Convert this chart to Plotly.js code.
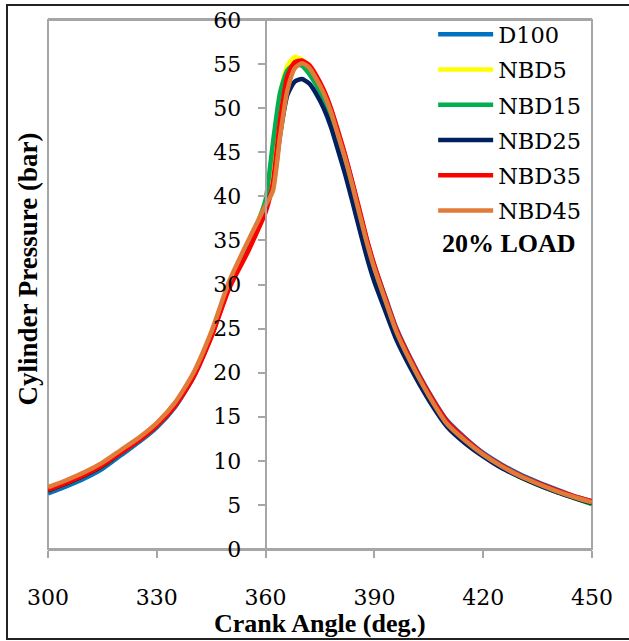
<!DOCTYPE html>
<html>
<head>
<meta charset="utf-8">
<script src="https://cdn.plot.ly/plotly-3.0.1.min.js"></script>
<style>
html,body{margin:0;padding:0;background:#fff;overflow:hidden;}
#wrap{position:relative;width:629px;height:641px;}
#chart{position:absolute;left:0;top:0;width:629px;height:641px;}
#frame{position:absolute;left:6px;top:4px;width:640px;height:636px;border:2px solid #222;box-sizing:border-box;pointer-events:none;}
</style>
</head>
<body>
<div id="wrap"><div id="chart"></div><div id="frame"></div></div>
<script>
const crankAngle = [300,305,310,315,320,325,330,335,340,345,350,355,358,360,362,364,366,368,370,372,374,376,378,380,382,384,386,388,390,393,396,400,405,410,415,420,425,430,435,440,445,450];

const D100  = [6.3,7.1,8.0,9.1,10.6,12.1,13.8,16.1,19.4,24.1,29.8,34.3,37.0,38.9,41.2,47.5,52.5,54.8,55.2,54.8,53.5,52.0,49.9,47.2,44.5,41.4,38.1,34.9,32.1,28.6,25.1,21.6,17.8,14.6,12.6,10.9,9.6,8.5,7.6,6.8,6.0,5.4];
const NBD5  = [6.6,7.4,8.3,9.4,10.9,12.3,14.0,16.3,19.6,24.3,30.0,34.4,37.2,39.5,45.3,51.5,54.8,55.8,55.5,54.6,53.2,51.5,49.3,46.6,43.8,40.7,37.5,34.3,31.5,28.0,24.5,21.1,17.3,14.2,12.2,10.6,9.3,8.2,7.3,6.5,5.8,5.1];
const NBD15 = [6.6,7.4,8.3,9.4,10.9,12.3,14.0,16.3,19.6,24.3,30.0,34.4,37.2,39.6,46.0,51.8,54.3,55.0,54.8,53.9,52.6,51.0,48.9,46.3,43.5,40.5,37.3,34.1,31.3,27.8,24.4,21.0,17.2,14.1,12.2,10.6,9.3,8.2,7.3,6.5,5.8,5.1];
const NBD25 = [6.6,7.4,8.3,9.4,10.9,12.3,14.0,16.3,19.6,24.3,30.0,34.4,37.0,38.8,41.0,47.0,51.5,53.0,53.3,52.8,51.6,50.0,47.9,45.2,42.4,39.3,36.1,33.0,30.3,27.0,23.8,20.5,16.9,13.9,12.0,10.5,9.2,8.2,7.3,6.5,5.8,5.2];
const NBD35 = [6.7,7.5,8.4,9.5,10.9,12.3,14.0,16.2,19.4,24.0,29.6,33.6,36.3,38.2,41.5,48.7,53.6,55.2,55.4,54.9,53.7,52.1,50.0,47.4,44.6,41.5,38.3,35.0,32.2,28.5,25.0,21.5,17.7,14.5,12.5,10.8,9.5,8.4,7.5,6.7,6.0,5.4];
const NBD45 = [7.0,7.8,8.7,9.8,11.2,12.6,14.3,16.6,19.9,24.6,30.4,34.8,37.3,39.0,40.6,46.8,52.0,54.5,55.1,54.6,53.3,51.7,49.6,46.9,44.2,41.1,37.8,34.6,31.8,28.2,24.7,21.2,17.4,14.2,12.3,10.7,9.4,8.3,7.4,6.6,5.9,5.3];

const seriesNames = ['D100','NBD5','NBD15','NBD25','NBD35','NBD45'];
const seriesValues = [D100, NBD5, NBD15, NBD25, NBD35, NBD45];
const seriesColors = ['#0070C0','#FFFF00','#00B050','#002060','#FF0000','#E07B39'];

const xTicks = [300,330,360,390,420,450];
const yTicks = [0,5,10,15,20,25,30,35,40,45,50,55,60];

const serifBold = 'Liberation Serif';
const serifReg = 'DejaVu Serif';

const traces = seriesNames.map((n, i) => ({
  x: crankAngle, y: seriesValues[i], name: n, legendgroup: n, type: 'scatter', mode: 'lines',
  line: {color: seriesColors[i], width: 4.5, shape: 'spline', smoothing: 0.6}
}));

const layout = {
  width: 629, height: 641,
  margin: {l: 48, r: 37, t: 20, b: 92},
  paper_bgcolor: 'rgba(0,0,0,0)', plot_bgcolor: '#fff',
  font: {family: serifReg, size: 22, color: '#000'},
  showlegend: true,
  legend: {x: 0.708, y: 1.013, xanchor: 'left', yanchor: 'top', bgcolor: 'rgba(0,0,0,0)',
           font: {family: serifReg, size: 22.5, color: '#000'}, itemwidth: 55, tracegroupgap: 3},
  xaxis: {range: [300,450], tickvals: xTicks, ticktext: xTicks.map(String), showgrid: false, zeroline: false,
          showline: true, linecolor: '#A6A6A6', linewidth: 2, mirror: true,
          ticks: 'outside', ticklen: 7, tickwidth: 2, tickcolor: '#A6A6A6',
          ticklabelstandoff: 21,
          tickfont: {family: serifReg, size: 22, color: '#000'}},
  yaxis: {range: [0,60], tickvals: yTicks, ticktext: yTicks.map(String), showgrid: false, zeroline: false,
          anchor: 'free', position: 0.4,
          showline: true, linecolor: '#A6A6A6', linewidth: 2,
          ticks: 'outside', ticklen: 7, tickwidth: 2, tickcolor: '#A6A6A6',
          ticklabelstandoff: 12,
          tickfont: {family: serifReg, size: 22, color: '#000'}},
  shapes: [{type: 'rect', xref: 'paper', yref: 'paper', x0: 0, x1: 1, y0: 0, y1: 1,
            line: {color: '#A6A6A6', width: 2}, layer: 'below'}],
  annotations: [
    {text: '<b>Cylinder Pressure (bar)</b>', xref: 'paper', yref: 'paper', x: -0.037, y: 0.53,
     textangle: -90, showarrow: false, xanchor: 'center', yanchor: 'middle',
     font: {family: serifBold, size: 27, color: '#000'}},
    {text: '<b>Crank Angle (deg.)</b>', xref: 'paper', yref: 'paper', x: 0.5, y: -0.14,
     showarrow: false, xanchor: 'center', yanchor: 'middle',
     font: {family: serifBold, size: 26, color: '#000'}},
    {text: '<b>20% LOAD</b>', xref: 'paper', yref: 'paper', x: 0.7206, y: 0.5766,
     showarrow: false, xanchor: 'left', yanchor: 'middle',
     font: {family: serifBold, size: 26, color: '#000'}}
  ]
};

Plotly.newPlot('chart', traces, layout, {staticPlot: true, displayModeBar: false});
</script>
</body>
</html>
